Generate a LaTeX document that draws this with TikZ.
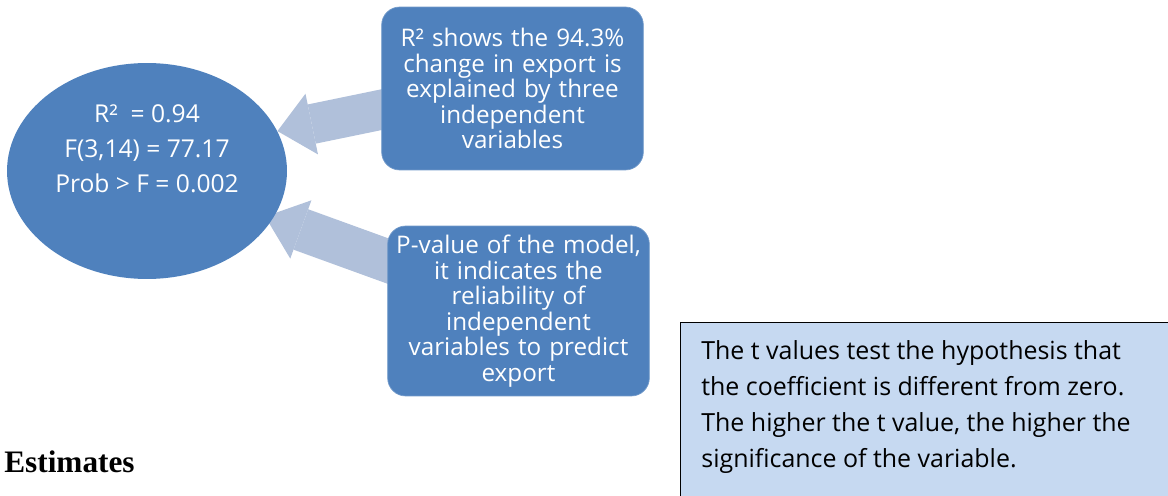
\documentclass[tikz,border=0pt]{standalone}
\usepackage{fontspec}
\setmainfont{Open Sans}
\newfontfamily\headfont{Liberation Serif}
\usetikzlibrary{arrows.meta,backgrounds,calc,shapes.geometric}
\definecolor{boxblue}{RGB}{79,129,189}
\definecolor{arrowblue}{RGB}{176,192,218}
\definecolor{noteblue}{RGB}{198,217,241}
\tikzset{
	infobox/.style={rectangle, rounded corners=0.36cm, fill=boxblue, draw=boxblue!80!white, line width=0.4pt, text=white, align=center, text width=5cm, minimum width=5.22cm, font=\fontsize{13.8}{14.5}\selectfont},
	fatarrow/.style={draw=arrowblue, -{Triangle[length=#1, width=1.24cm, line width=0pt]}},
}

\begin{document}
\begin{tikzpicture}[x=0.02cm, y=-0.02cm]
			%%%%% START %%%%%
			
			\useasboundingbox (0, 0) rectangle (1168, 496);
			\clip (0, 0) rectangle (1168, 496);
			
			% model summary
			\node[ellipse, fill=boxblue, minimum width=5.6cm, minimum height=4.32cm, inner sep=0] (ell) at (147, 171) {};
			\node[text=white, align=center, font=\fontsize{14}{19.8}\selectfont] (stats) at (147, 149) {R²\ \ = 0.94\\F(3,14) = 77.17\\Prob > F = 0.002};
			
			% explanations
			\node[infobox, minimum height=3.26cm] (rsq) at (512.5, 88.5) {R² shows the 94.3\%\\change in export is\\explained by three\\independent\\variables};
			\node[infobox, minimum height=3.4cm] (pval) at (518.5, 311) {P-value of the model,\\it indicates the\\reliability of\\independent\\variables to predict\\export};
			
			\begin{pgfonlayer}{background}
				\draw[fatarrow=0.7cm, line width=0.8cm] ($(rsq.west)+(18, 17.5)$) -- (ell.17);
				\draw[fatarrow=0.76cm, line width=0.86cm, shorten >=-0.16cm] ($(pval.west)+(17, -44)$) -- (ell.-21);
			\end{pgfonlayer}
			
			% t values note
			\node[rectangle, fill=noteblue, draw=black, line width=0.6pt, minimum width=10.4cm, minimum height=4cm, anchor=north west] (tbox) at (680, 322) {};
			\node[anchor=north west, inner sep=0, align=left, font=\fontsize{14.2}{20.6}\selectfont] (tnote) at (701, 340) {The t values test the hypothesis that\\the coefficient is different from zero.\\The higher the t value, the higher the\\significance of the variable.};
			
			\node[anchor=base west, inner sep=0, font=\headfont\bfseries\fontsize{17.8}{20}\selectfont] (est) at (4, 472) {Estimates};
			
			%%%%% END %%%%%
\end{tikzpicture}
\end{document}
